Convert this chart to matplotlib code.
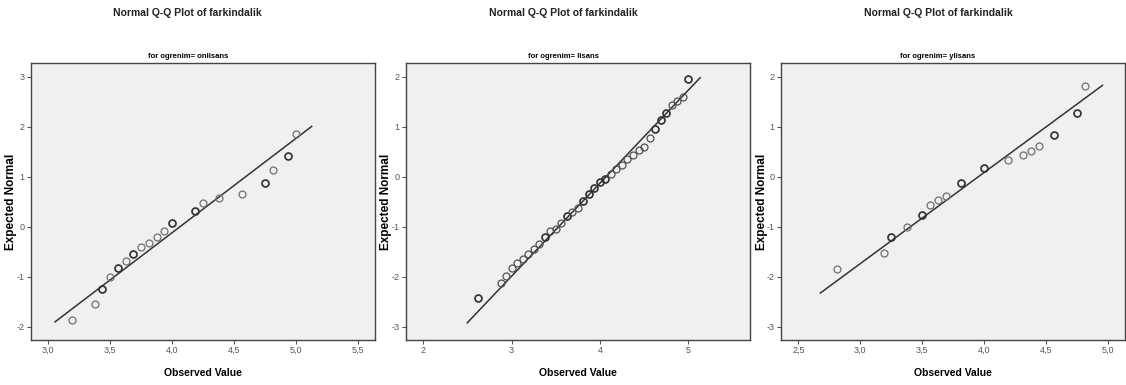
import matplotlib
matplotlib.use("Agg")
import matplotlib.pyplot as plt
from matplotlib.ticker import FuncFormatter

# onlisans
obs_onlisans = [3.1875, 3.375, 3.4375, 3.5, 3.5625, 3.625, 3.6875, 3.75, 3.8125, 3.875,
                3.9375, 4.0, 4.1875, 4.25, 4.375, 4.5625, 4.75, 4.8125, 4.9375, 5.0]
exp_onlisans = [-1.86, -1.53, -1.23, -1.00, -0.82, -0.67, -0.53, -0.40, -0.31, -0.19,
                -0.07, 0.08, 0.32, 0.49, 0.58, 0.67, 0.89, 1.15, 1.42, 1.87]
bold_onlisans = [3.4375, 3.5625, 3.6875, 4.0, 4.1875, 4.75, 4.9375]

# lisans
obs_lisans = [2.625, 2.875, 2.9375, 3.0, 3.0625, 3.125, 3.1875, 3.25, 3.3125, 3.375,
              3.4375, 3.5, 3.5625, 3.625, 3.6875, 3.75, 3.8125, 3.875, 3.9375, 4.0,
              4.0625, 4.125, 4.1875, 4.25, 4.3125, 4.375, 4.4375, 4.5, 4.5625, 4.625,
              4.6875, 4.75, 4.8125, 4.875, 4.9375, 5.0]
exp_lisans = [-2.41, -2.11, -1.97, -1.81, -1.71, -1.63, -1.54, -1.43, -1.34, -1.19,
              -1.08, -1.03, -0.92, -0.78, -0.69, -0.62, -0.47, -0.33, -0.21, -0.10,
              -0.03, 0.07, 0.16, 0.25, 0.37, 0.45, 0.54, 0.61, 0.78, 0.96,
              1.14, 1.28, 1.45, 1.52, 1.60, 1.97]
bold_lisans = [2.625, 3.375, 3.625, 3.8125, 3.875, 3.9375, 4.0, 4.0625, 4.625, 4.6875, 4.75, 5.0]

# ylisans
obs_ylisans = [2.8125, 3.1875, 3.25, 3.375, 3.5, 3.5625, 3.625, 3.6875, 3.8125, 4.0,
               4.1875, 4.3125, 4.375, 4.4375, 4.5625, 4.75, 4.8125]
exp_ylisans = [-1.84, -1.51, -1.20, -0.99, -0.75, -0.55, -0.46, -0.37, -0.12, 0.19,
               0.35, 0.44, 0.53, 0.63, 0.85, 1.28, 1.83]
bold_ylisans = [3.25, 3.5, 3.8125, 4.0, 4.5625, 4.75]

# reference line: y = (x - mean) / sd over x range
line_mean = [4.060, 4.067, 3.949]
line_sd = [0.530, 0.538, 0.548]
line_range = [(3.054, 5.126), (2.498, 5.136), (2.677, 4.954)]

groups = ["onlisans", "lisans", "ylisans"]
xlims = [(2.858, 5.635), (1.804, 5.70), (2.36, 5.135)]
ylims = [(-2.26, 3.274), (-3.26, 2.274), (-3.26, 2.274)]
xticks = [[3.0, 3.5, 4.0, 4.5, 5.0, 5.5], [2, 3, 4, 5], [2.5, 3.0, 3.5, 4.0, 4.5, 5.0]]
yticks = [[-2, -1, 0, 1, 2, 3], [-3, -2, -1, 0, 1, 2], [-3, -2, -1, 0, 1, 2]]
xfmt = ["{:.1f}", "{:.0f}", "{:.1f}"]
light_col = ["#707070", "#505050", "#707070"]

obs_all = [obs_onlisans, obs_lisans, obs_ylisans]
exp_all = [exp_onlisans, exp_lisans, exp_ylisans]
bold_all = [bold_onlisans, bold_lisans, bold_ylisans]

narrow = ["Liberation Sans Narrow", "Liberation Sans", "DejaVu Sans"]
plt.rcParams["font.family"] = ["Liberation Sans", "DejaVu Sans"]

fig = plt.figure(figsize=(11.26, 3.85), dpi=100)
W, H = 1126, 385
lefts = [30.7, 406, 781]
ax_w = 344
top_px, bot_px = 63.3, 340

for i in range(3):
    ax = fig.add_axes([lefts[i] / W, (H - bot_px) / H, ax_w / W, (bot_px - top_px) / H])
    ax.set_facecolor("#f0f0f0")
    for s in ax.spines.values():
        s.set_color("#444444")
        s.set_linewidth(1.0)

    x0, x1 = line_range[i]
    ax.plot([x0, x1], [(x0 - line_mean[i]) / line_sd[i], (x1 - line_mean[i]) / line_sd[i]],
            color="#333333", lw=1.1, zorder=2)

    for x, y in zip(obs_all[i], exp_all[i]):
        heavy = x in bold_all[i]
        ax.plot(x, y, "o", mfc="none", ms=5.0,
                mec="#333333" if heavy else light_col[i],
                mew=1.25 if heavy else 0.9, zorder=3)

    ax.set_xlim(*xlims[i])
    ax.set_ylim(*ylims[i])
    ax.set_xticks(xticks[i])
    ax.set_yticks(yticks[i])
    f = xfmt[i]
    ax.xaxis.set_major_formatter(FuncFormatter(lambda v, p, f=f: f.format(v).replace(".", ",")))
    ax.yaxis.set_major_formatter(FuncFormatter(lambda v, p: "{:.0f}".format(v)))
    ax.tick_params(direction="out", length=3, width=0.8, color="#555555",
                   labelsize=6.5, labelcolor="#555555", pad=1.5)
    for lab in ax.get_xticklabels() + ax.get_yticklabels():
        lab.set_family(narrow)

    sub_x = 0.5 - 15 / ax_w
    ax.text(sub_x, 1 + 7 / (bot_px - top_px), "for ogrenim= " + groups[i], transform=ax.transAxes,
            ha="center", va="center", fontsize=5.5, fontweight="bold", family=narrow)
    ax.set_xlabel("Observed Value", fontsize=7.5, fontweight="bold", family=narrow, labelpad=9)
    ax.set_ylabel("Expected Normal", fontsize=8.5, fontweight="bold")
    ax.yaxis.set_label_coords(-13.5 / ax_w, 0.5)

    cx = (lefts[i] + ax_w / 2 - 15) / W
    fig.text(cx, 1 - 13 / H, "Normal Q-Q Plot of farkindalik", ha="center", va="center",
             fontsize=7.5, fontweight="bold", family=narrow, color="#222222")

fig.savefig("out.png", dpi=100)
